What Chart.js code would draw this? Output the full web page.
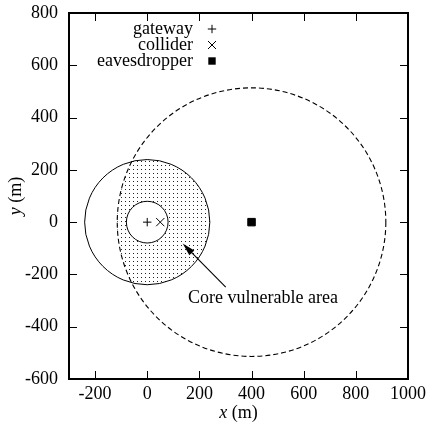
<!DOCTYPE html>
<html><head><meta charset="utf-8">
<script src="https://cdn.jsdelivr.net/npm/chart.js@4"></script>
<style>html,body{margin:0;padding:0;background:#fff}#wrap{width:428px;height:430px;position:relative}</style>
</head><body><div id="wrap"><canvas id="c"></canvas></div>
<script>
// ---- data ----
const nodeNames = ['gateway', 'collider', 'eavesdropper'];
const nodeX = [0, 50, 400];
const nodeY = [0, 0, 0];
const innerRangeRadius = [80];    // around gateway
const outerRangeRadius = [240];   // around gateway
const eavesRangeRadius = [515];   // around eavesdropper
const xTicks = [-200, 0, 200, 400, 600, 800, 1000];
const yTicks = [-600, -400, -200, 0, 200, 400, 600, 800];
const xLimits = [-300, 1000];
const yLimits = [-600, 800];
const annotationText = ['Core vulnerable area'];
const annotationPos = [444, -291];
const arrowFrom = [301, -249];
const arrowTo = [136, -82];
const xTitle = ['x', ' (m)'];
const yTitle = ['y', ' (m)'];

const FONT = '"Liberation Serif", "DejaVu Serif", serif';
const FS = 18;

function makeDotPattern(ctx) {
  const pc = document.createElement('canvas');
  pc.width = 4; pc.height = 4;
  const p = pc.getContext('2d');
  p.fillStyle = '#222';
  p.fillRect(1, 1, 1, 1);
  return ctx.createPattern(pc, 'repeat');
}

const circlesPlugin = {
  id: 'circles',
  beforeDatasetsDraw(chart) {
    const ctx = chart.ctx, xs = chart.scales.x, ys = chart.scales.y;
    const px = v => xs.getPixelForValue(v), py = v => ys.getPixelForValue(v);
    const rpx = r => Math.abs(xs.getPixelForValue(r) - xs.getPixelForValue(0));
    const gx = px(nodeX[0]), gy = py(nodeY[0]);
    const ex = px(nodeX[2]), ey = py(nodeY[2]);
    const rIn = rpx(innerRangeRadius[0]), rOut = rpx(outerRangeRadius[0]), rE = rpx(eavesRangeRadius[0]);
    ctx.save();
    // dotted core vulnerable area
    ctx.save();
    ctx.beginPath(); ctx.arc(gx, gy, rOut, 0, Math.PI * 2); ctx.clip();
    ctx.beginPath(); ctx.arc(ex, ey, rE, 0, Math.PI * 2); ctx.clip();
    ctx.beginPath();
    ctx.arc(gx, gy, rOut + 2, 0, Math.PI * 2);
    ctx.moveTo(gx + rIn, gy);
    ctx.arc(gx, gy, rIn, 0, Math.PI * 2);
    ctx.fillStyle = makeDotPattern(ctx);
    ctx.fill('evenodd');
    ctx.restore();
    // solid circles
    ctx.strokeStyle = '#000';
    ctx.lineWidth = 1;
    ctx.setLineDash([]);
    ctx.beginPath(); ctx.arc(gx, gy, rIn, 0, Math.PI * 2); ctx.stroke();
    ctx.beginPath(); ctx.arc(gx, gy, rOut, 0, Math.PI * 2); ctx.stroke();
    // dashed eavesdropper range
    ctx.lineWidth = 1.1;
    ctx.setLineDash([5, 3]);
    ctx.beginPath(); ctx.arc(ex, ey, rE, 0, Math.PI * 2); ctx.stroke();
    ctx.restore();
  },
  afterDraw(chart) {
    const ctx = chart.ctx, xs = chart.scales.x, ys = chart.scales.y, a = chart.chartArea;
    ctx.save();
    // frame
    ctx.strokeStyle = '#000';
    ctx.lineWidth = 2;
    ctx.setLineDash([]);
    ctx.strokeRect(a.left, a.top, a.right - a.left, a.bottom - a.top);
    // inward ticks
    ctx.lineWidth = 1;
    const TL = 8;
    ctx.beginPath();
    xTicks.forEach(v => {
      const x = Math.round(xs.getPixelForValue(v)) + 0.5;
      ctx.moveTo(x, a.bottom); ctx.lineTo(x, a.bottom - TL);
      ctx.moveTo(x, a.top); ctx.lineTo(x, a.top + TL);
    });
    yTicks.forEach(v => {
      const y = Math.round(ys.getPixelForValue(v)) + 0.5;
      ctx.moveTo(a.left, y); ctx.lineTo(a.left + TL, y);
      ctx.moveTo(a.right, y); ctx.lineTo(a.right - TL, y);
    });
    ctx.stroke();

    // legend (key)
    ctx.fillStyle = '#000';
    ctx.font = FS + 'px ' + FONT;
    ctx.textAlign = 'right';
    ctx.textBaseline = 'middle';
    const keyTextX = 193, keyMarkX = 212, keyY0 = 29, keyDY = 16;
    nodeNames.forEach((n, i) => {
      const y = keyY0 + i * keyDY;
      ctx.fillText(n, keyTextX, y);
      drawMarker(ctx, i, keyMarkX, y);
    });

    // annotation arrow
    const fx = xs.getPixelForValue(arrowFrom[0]), fy = ys.getPixelForValue(arrowFrom[1]);
    const tx = xs.getPixelForValue(arrowTo[0]), ty = ys.getPixelForValue(arrowTo[1]);
    const ang = Math.atan2(ty - fy, tx - fx);
    const hl = 13, hw = 3.5;
    ctx.beginPath();
    ctx.moveTo(fx, fy);
    ctx.lineTo(tx - Math.cos(ang) * (hl - 2), ty - Math.sin(ang) * (hl - 2));
    ctx.lineWidth = 1.1;
    ctx.stroke();
    ctx.beginPath();
    ctx.moveTo(tx, ty);
    ctx.lineTo(tx - Math.cos(ang) * hl - Math.sin(ang) * hw, ty - Math.sin(ang) * hl + Math.cos(ang) * hw);
    ctx.lineTo(tx - Math.cos(ang) * hl + Math.sin(ang) * hw, ty - Math.sin(ang) * hl - Math.cos(ang) * hw);
    ctx.closePath();
    ctx.fill();
    // annotation text
    ctx.textAlign = 'center';
    ctx.textBaseline = 'middle';
    ctx.fillText(annotationText[0], xs.getPixelForValue(annotationPos[0]), ys.getPixelForValue(annotationPos[1]));

    // axis titles with italic variable
    drawMixed(ctx, xTitle, (a.left + a.right) / 2, 413, 0);
    drawMixed(ctx, yTitle, 16, (a.top + a.bottom) / 2, -Math.PI / 2);
    ctx.restore();
  }
};

function drawMixed(ctx, parts, cx, cy, rot) {
  ctx.save();
  ctx.translate(cx, cy);
  ctx.rotate(rot);
  const fI = 'italic ' + FS + 'px ' + FONT, fN = FS + 'px ' + FONT;
  ctx.font = fI; const w1 = ctx.measureText(parts[0]).width;
  ctx.font = fN; const w2 = ctx.measureText(parts[1]).width;
  let x = -(w1 + w2) / 2;
  ctx.textAlign = 'left'; ctx.textBaseline = 'middle'; ctx.fillStyle = '#000';
  ctx.font = fI; ctx.fillText(parts[0], x, 0);
  ctx.font = fN; ctx.fillText(parts[1], x + w1, 0);
  ctx.restore();
}

function drawMarker(ctx, i, x, y) {
  ctx.save();
  ctx.strokeStyle = '#000'; ctx.fillStyle = '#000'; ctx.lineWidth = 1;
  ctx.beginPath();
  if (i === 0) {
    ctx.moveTo(x - 4.2, y); ctx.lineTo(x + 4.2, y);
    ctx.moveTo(x, y - 4.2); ctx.lineTo(x, y + 4.2);
    ctx.stroke();
  } else if (i === 1) {
    ctx.moveTo(x - 4, y - 4); ctx.lineTo(x + 4, y + 4);
    ctx.moveTo(x - 4, y + 4); ctx.lineTo(x + 4, y - 4);
    ctx.stroke();
  } else {
    ctx.fillRect(x - 3.7, y - 3.7, 7.4, 7.4);
  }
  ctx.restore();
}

const styles = [
  { pointStyle: 'cross', pointRadius: 4.2 },
  { pointStyle: 'crossRot', pointRadius: 5.8 },
  { pointStyle: 'rect', pointRadius: 5.3 }
];

const datasets = nodeNames.map((n, i) => ({
  label: n,
  data: [{ x: nodeX[i], y: nodeY[i] }],
  pointStyle: styles[i].pointStyle,
  pointRadius: styles[i].pointRadius,
  pointHoverRadius: styles[i].pointRadius,
  borderColor: '#000',
  backgroundColor: '#000',
  borderWidth: 1,
  showLine: false
}));

new Chart(document.getElementById('c'), {
  type: 'scatter',
  data: { datasets },
  options: {
    responsive: true,
    maintainAspectRatio: false,
    animation: false,
    layout: { padding: { top: 13, right: 20, left: 0, bottom: 0 } },
    plugins: { legend: { display: false }, tooltip: { enabled: false } },
    scales: {
      x: {
        type: 'linear', position: 'bottom', min: xLimits[0], max: xLimits[1],
        grid: { display: false, drawTicks: false, tickLength: 0 }, border: { display: false },
        ticks: { color: '#000', font: { family: FONT, size: FS }, padding: 4, maxRotation: 0,
                 callback: v => String(v) },
        afterBuildTicks: s => { s.ticks = xTicks.map(v => ({ value: v })); },
        afterFit: s => { s.height = 51; s.paddingLeft = 0; s.paddingRight = 0; }
      },
      y: {
        type: 'linear', position: 'left', min: yLimits[0], max: yLimits[1],
        grid: { display: false, drawTicks: false, tickLength: 0 }, border: { display: false },
        ticks: { color: '#000', font: { family: FONT, size: FS }, padding: 11,
                 callback: v => String(v) },
        afterBuildTicks: s => { s.ticks = yTicks.map(v => ({ value: v })); },
        afterFit: s => { s.width = 69; s.paddingTop = 0; s.paddingBottom = 0; }
      }
    }
  },
  plugins: [circlesPlugin]
});
</script>
</body></html>
